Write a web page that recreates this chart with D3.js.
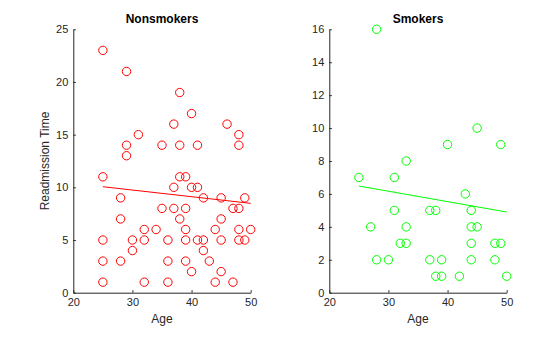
<!DOCTYPE html>
<html><head><meta charset="utf-8">
<script src="https://cdn.jsdelivr.net/npm/d3@7"></script>
<style>body{margin:0;background:#fff;}svg{display:block;font-family:"Liberation Sans",Arial,sans-serif;}</style>
</head><body>
<svg id="chart" width="560" height="337"></svg>
<script>
const nonAge = [25,29,38,40,37,46,31,48,29,35,38,41,48,29,25,38,39,37,40,41,28,42,45,49,35,37,39,47,48,28,38,45,32,34,39,44,48,50,25,30,32,36,39,41,42,45,48,49,30,42,25,28,36,39,43,40,45,25,32,36,44,47];
const nonTime = [23,21,19,17,16,16,15,15,14,14,14,14,14,13,11,11,11,10,10,10,9,9,9,9,8,8,8,8,8,7,7,7,6,6,6,6,6,6,5,5,5,5,5,5,5,5,5,5,4,4,3,3,3,3,3,2,2,1,1,1,1,1];
const smkAge = [28,33,40,45,49,25,31,43,31,37,38,44,27,33,44,45,32,33,44,48,49,28,30,37,39,44,48,38,39,42,50];
const smkTime = [16,8,9,10,9,7,7,6,5,5,5,5,4,4,4,4,3,3,3,3,3,2,2,2,2,2,2,1,1,1,1];
const fitAges = [25,50];
const nonFit = [10.06,8.48];
const smkFit = [6.48,4.90];
const xTicks = [20,30,40,50];
const nonYTicks = [0,5,10,15,20,25];
const smkYTicks = [0,2,4,6,8,10,12,14,16];

const svg = d3.select("#chart");
const axCol = "#262626";

function panel(opt){
  const x = d3.scaleLinear().domain([20,50]).range([opt.left, opt.left+177.4]);
  const y = d3.scaleLinear().domain([0, opt.ymax]).range([292.7, 29.3]);
  const g = svg.append("g");
  const xa = g.append("g").attr("transform",`translate(0,${y(0)})`)
    .call(d3.axisBottom(x).tickValues(xTicks).tickSizeInner(-2.5).tickSizeOuter(0).tickPadding(6));
  const ya = g.append("g").attr("transform",`translate(${x(20)},0)`)
    .call(d3.axisLeft(y).tickValues(opt.yticks).tickSizeInner(-2.5).tickSizeOuter(0).tickPadding(5));
  [xa,ya].forEach(a=>{
    a.selectAll("path,line").attr("stroke",axCol).attr("stroke-width",1);
    a.selectAll("text").attr("fill",axCol).attr("font-size","11px").attr("font-family","Liberation Sans, Arial, sans-serif");
  });
  xa.selectAll("text").attr("dy","0.71em");
  g.append("text").attr("x",(x(20)+x(50))/2).attr("y",323).attr("text-anchor","middle")
    .attr("fill",axCol).attr("font-size","12px").text("Age");
  g.append("text").attr("x",(x(20)+x(50))/2).attr("y",23).attr("text-anchor","middle")
    .attr("fill","#000").attr("font-size","12px").attr("font-weight","bold").text(opt.title);
  if(opt.ylabel){
    g.append("text").attr("transform",`translate(49,${(y(0)+y(opt.ymax))/2}) rotate(-90)`)
      .attr("text-anchor","middle").attr("fill",axCol).attr("font-size","12px").text(opt.ylabel);
  }
  g.append("g").selectAll("circle").data(opt.ages.map((a,i)=>[a,opt.times[i]])).join("circle")
    .attr("cx",d=>x(d[0])).attr("cy",d=>y(d[1])).attr("r",4.2)
    .attr("fill","none").attr("stroke",opt.color).attr("stroke-width",1);
  g.append("line").attr("x1",x(fitAges[0])).attr("y1",y(opt.fit[0])).attr("x2",x(fitAges[1])).attr("y2",y(opt.fit[1]))
    .attr("stroke",opt.color).attr("stroke-width",1);
}

panel({left:73.3, ymax:25, yticks:nonYTicks, title:"Nonsmokers", ylabel:"Readmission Time", ages:nonAge, times:nonTime, fit:nonFit, color:"#ff0000"});
panel({left:329.3, ymax:16, yticks:smkYTicks, title:"Smokers", ylabel:null, ages:smkAge, times:smkTime, fit:smkFit, color:"#00ff00"});
</script>
</body></html>
